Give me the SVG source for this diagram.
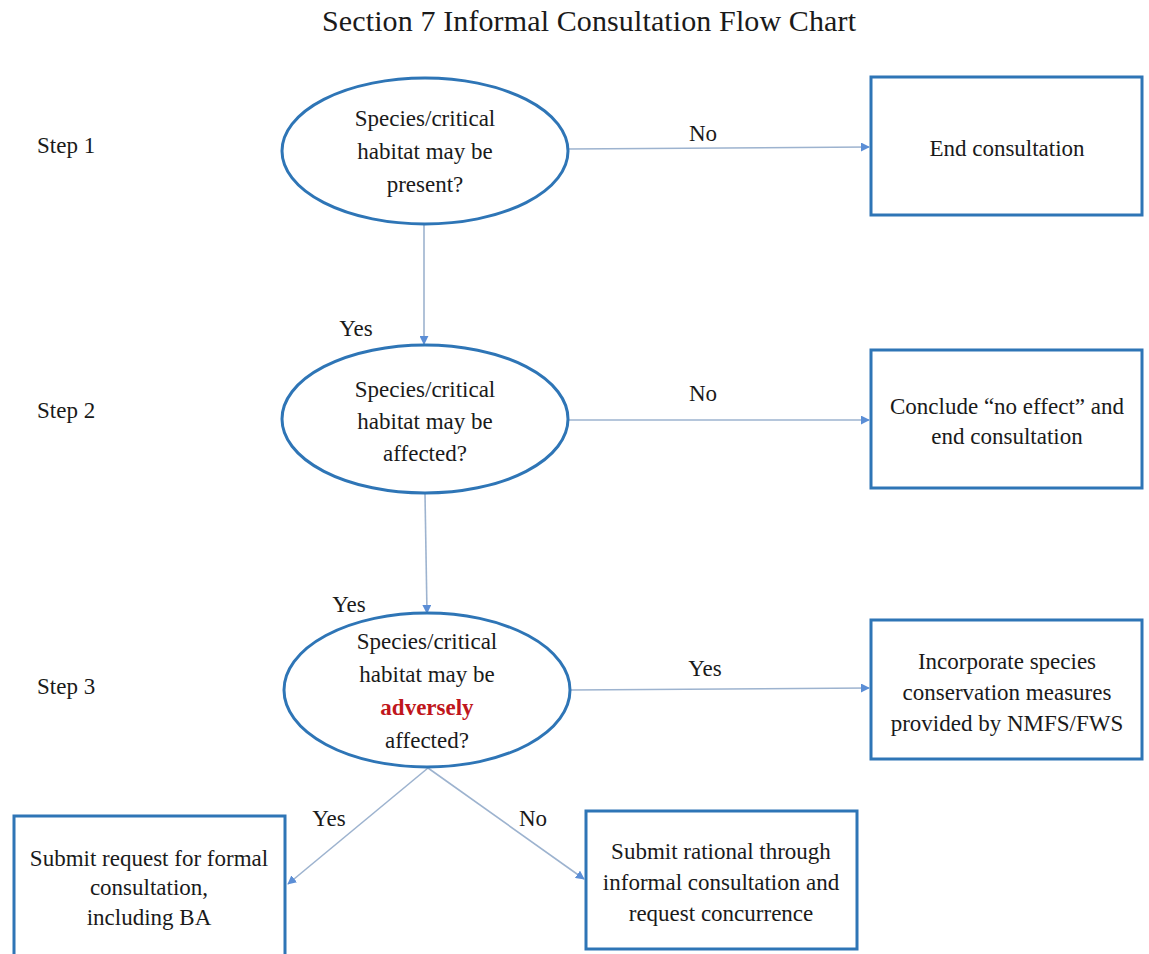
<svg xmlns="http://www.w3.org/2000/svg" width="1149" height="954" viewBox="0 0 1149 954" font-family="'Liberation Serif', 'DejaVu Serif', serif">
<style>
text{font-family:'Liberation Serif','DejaVu Serif',serif;fill:#1a1a1a;text-anchor:middle;}
.t{font-size:23px;font-family:'Liberation Serif','DejaVu Serif',serif;}
.step{font-size:23px;text-anchor:start;font-family:'Liberation Serif','DejaVu Serif',serif;}
.title{font-size:30px;}
.node{fill:#fff;stroke:#2E75B6;stroke-width:3;}
.conn{fill:none;stroke:#9DB3CF;stroke-width:1.6;marker-end:url(#ah);}
.red{fill:#C0161C;font-weight:bold;}
</style>
<defs>
<marker id="ah" viewBox="0 0 10 10" refX="9" refY="5" markerWidth="9" markerHeight="9" markerUnits="userSpaceOnUse" orient="auto">
<path d="M0,0 L10,5 L0,10 z" fill="#5B8ED6"/>
</marker>
</defs>
<rect width="1149" height="954" fill="#fff"/>
<text class="title" x="589" y="31" textLength="534">Section 7 Informal Consultation Flow Chart</text>
<g id="steps">
<text class="step" x="37" y="153">Step 1</text>
<text class="step" x="37" y="418">Step 2</text>
<text class="step" x="37" y="694">Step 3</text>
</g>
<g id="connectors">
<line class="conn" x1="568" y1="149" x2="869" y2="147"/>
<line class="conn" x1="424" y1="225" x2="424" y2="344"/>
<line class="conn" x1="568" y1="420" x2="869" y2="420"/>
<line class="conn" x1="425" y1="494" x2="427" y2="613"/>
<line class="conn" x1="570" y1="690" x2="869" y2="688"/>
<line class="conn" x1="428" y1="768" x2="288" y2="884"/>
<line class="conn" x1="428" y1="768" x2="584" y2="879"/>
<text class="t" x="703" y="141">No</text>
<text class="t" x="356" y="336">Yes</text>
<text class="t" x="703" y="401">No</text>
<text class="t" x="349" y="612">Yes</text>
<text class="t" x="705" y="676">Yes</text>
<text class="t" x="329" y="826">Yes</text>
<text class="t" x="533" y="826">No</text>
</g>
<g id="q1">
<ellipse class="node" cx="425" cy="151" rx="143" ry="73"/>
<text class="t" x="425" y="126">Species/critical</text>
<text class="t" x="425" y="159">habitat may be</text>
<text class="t" x="425" y="192">present?</text>
</g>
<g id="q2">
<ellipse class="node" cx="425" cy="419" rx="143" ry="74"/>
<text class="t" x="425" y="397">Species/critical</text>
<text class="t" x="425" y="429">habitat may be</text>
<text class="t" x="425" y="461">affected?</text>
</g>
<g id="q3">
<ellipse class="node" cx="427" cy="690" rx="143" ry="77"/>
<text class="t" x="427" y="649">Species/critical</text>
<text class="t" x="427" y="682">habitat may be</text>
<text class="t red" x="427" y="715">adversely</text>
<text class="t" x="427" y="748">affected?</text>
</g>
<g id="end1">
<rect class="node" x="871" y="77" width="271" height="138"/>
<text class="t" x="1007" y="156">End consultation</text>
</g>
<g id="noeffect">
<rect class="node" x="871" y="350" width="271" height="138"/>
<text class="t" x="1007" y="414">Conclude “no effect” and</text>
<text class="t" x="1007" y="444">end consultation</text>
</g>
<g id="incorporate">
<rect class="node" x="871" y="620" width="271" height="139"/>
<text class="t" x="1007" y="669">Incorporate species</text>
<text class="t" x="1007" y="700">conservation measures</text>
<text class="t" x="1007" y="731">provided by NMFS/FWS</text>
</g>
<g id="formal">
<rect class="node" x="14" y="816" width="271" height="150"/>
<text class="t" x="149" y="866">Submit request for formal</text>
<text class="t" x="149" y="895">consultation,</text>
<text class="t" x="149" y="925">including BA</text>
</g>
<g id="informal">
<rect class="node" x="586" y="811" width="271" height="138"/>
<text class="t" x="721" y="859">Submit rational through</text>
<text class="t" x="721" y="890">informal consultation and</text>
<text class="t" x="721" y="921">request concurrence</text>
</g>
</svg>
